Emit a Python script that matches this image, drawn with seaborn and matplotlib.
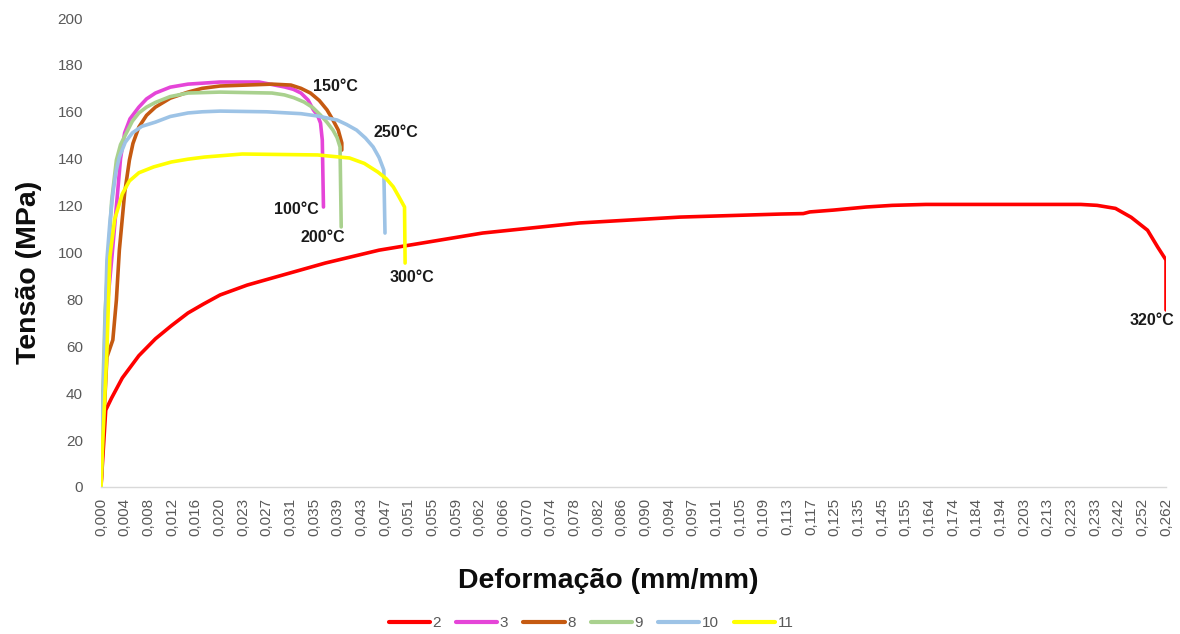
import numpy as np
import pandas as pd
import matplotlib
matplotlib.use("Agg")
import matplotlib.pyplot as plt
import seaborn as sns

# Category labels shown along the strain axis (mm/mm)
tick_labels = ["0,000", "0,004", "0,008", "0,012", "0,016", "0,020", "0,023", "0,027",
               "0,031", "0,035", "0,039", "0,043", "0,047", "0,051", "0,055", "0,059",
               "0,062", "0,066", "0,070", "0,074", "0,078", "0,082", "0,086", "0,090",
               "0,094", "0,097", "0,101", "0,105", "0,109", "0,113", "0,117", "0,125",
               "0,135", "0,145", "0,155", "0,164", "0,174", "0,184", "0,194", "0,203",
               "0,213", "0,223", "0,233", "0,242", "0,252", "0,262"]

# Stress-strain curves per specimen (strain mm/mm, stress MPa)
strain_2 = [0.0000, 0.0008, 0.0018, 0.0036, 0.0064, 0.0092, 0.0119, 0.0147, 0.0173,
            0.0201, 0.0237, 0.0279, 0.0369, 0.0460, 0.0625, 0.0789, 0.0954, 0.1119,
            0.1157, 0.1168, 0.1247, 0.1383, 0.1493, 0.1627, 0.2000, 0.2270, 0.2338,
            0.2408, 0.2473, 0.2542, 0.2585, 0.2620, 0.2620]
stress_2 = [0.0, 32.8, 38.0, 46.5, 56.0, 63.2, 68.8, 74.2, 78.0,
            81.9, 86.1, 89.1, 95.5, 101.0, 108.3, 112.6, 115.1, 116.4,
            116.6, 117.3, 118.1, 119.4, 120.1, 120.5, 120.5, 120.5, 120.1,
            118.8, 115.0, 109.5, 102.3, 96.8, 75.5]

strain_3 = [0.0000, 0.0003, 0.0008, 0.0018, 0.0028, 0.0033, 0.0040, 0.0049, 0.0064,
            0.0077, 0.0092, 0.0117, 0.0147, 0.0201, 0.0257, 0.0300, 0.0315, 0.0328,
            0.0340, 0.0349, 0.0356, 0.0361, 0.0364, 0.0366]
stress_3 = [0.0, 30.0, 70.0, 96.8, 125.4, 140.0, 151.0, 157.0, 162.0,
            165.5, 168.0, 170.5, 171.8, 172.7, 172.7, 170.6, 169.6, 168.0,
            165.0, 160.8, 158.5, 155.2, 148.0, 119.4]

strain_8 = [0.0000, 0.0005, 0.0010, 0.0020, 0.0026, 0.0031, 0.0040, 0.0048, 0.0054,
            0.0064, 0.0077, 0.0092, 0.0117, 0.0147, 0.0171, 0.0201, 0.0279, 0.0311,
            0.0328, 0.0344, 0.0359, 0.0372, 0.0382, 0.0391, 0.0397, 0.0397]
stress_8 = [0.0, 30.0, 55.4, 62.7, 79.7, 101.0, 125.4, 139.4, 146.5,
            153.5, 158.5, 162.0, 165.8, 168.4, 170.0, 171.0, 171.8, 171.4,
            170.0, 168.0, 164.8, 160.8, 156.5, 152.2, 146.7, 143.7]

strain_9 = [0.0000, 0.0003, 0.0007, 0.0012, 0.0018, 0.0026, 0.0033, 0.0043, 0.0053,
            0.0064, 0.0077, 0.0092, 0.0117, 0.0147, 0.0201, 0.0279, 0.0300, 0.0316,
            0.0333, 0.0348, 0.0361, 0.0372, 0.0382, 0.0389, 0.0394, 0.0396]
stress_9 = [0.0, 40.0, 75.0, 96.8, 122.0, 139.4, 146.0, 151.0, 156.0,
            159.5, 162.0, 164.0, 166.5, 168.0, 168.4, 168.0, 167.2, 166.0,
            164.2, 161.8, 158.6, 155.5, 152.2, 149.0, 145.0, 110.9]

strain_10 = [0.0000, 0.0003, 0.0006, 0.0010, 0.0015, 0.0020, 0.0025, 0.0031, 0.0041,
             0.0053, 0.0069, 0.0092, 0.0117, 0.0147, 0.0171, 0.0201, 0.0270, 0.0328,
             0.0356, 0.0389, 0.0405, 0.0422, 0.0437, 0.0450, 0.0460, 0.0468, 0.0470]
stress_10 = [0.0, 30.0, 60.0, 96.8, 113.0, 125.0, 134.0, 140.7, 147.0,
             151.0, 153.8, 155.6, 158.0, 159.5, 160.0, 160.3, 160.0, 159.2,
             158.2, 156.5, 154.6, 152.2, 148.8, 145.0, 140.5, 135.2, 108.3]

strain_11 = [0.0000, 0.0003, 0.0010, 0.0015, 0.0023, 0.0036, 0.0048, 0.0064, 0.0089,
             0.0119, 0.0147, 0.0175, 0.0229, 0.0356, 0.0410, 0.0435, 0.0458, 0.0472,
             0.0484, 0.0493, 0.0503, 0.0504]
stress_11 = [0.0, 20.0, 58.0, 98.0, 114.0, 125.0, 130.5, 134.0, 136.5,
             138.6, 139.8, 140.7, 142.0, 141.6, 140.3, 138.0, 134.3, 131.5,
             128.0, 124.0, 119.4, 95.5]

series_names = ["2", "3", "8", "9", "10", "11"]
series_colors = ["#FF0000", "#E545D8", "#C55A11", "#A9D18E", "#9DC3E6", "#FFFF00"]

# Temperature annotations: (text, strain, stress)
temp_labels = [("150°C", 0.0386, 171.0), ("250°C", 0.0488, 151.0),
               ("100°C", 0.0321, 118.5), ("200°C", 0.0365, 106.6),
               ("300°C", 0.0516, 89.5), ("320°C", 0.2561, 71.2)]

curves = {"2": (strain_2, stress_2), "3": (strain_3, stress_3), "8": (strain_8, stress_8),
          "9": (strain_9, stress_9), "10": (strain_10, stress_10), "11": (strain_11, stress_11)}
frames = []
for name in series_names:
    s, t = curves[name]
    frames.append(pd.DataFrame({"strain": s, "stress": t, "serie": name}))
df = pd.concat(frames, ignore_index=True)

sns.set_theme(style="white")
plt.rcParams["font.family"] = ["Liberation Sans", "DejaVu Sans"]

fig = plt.figure(figsize=(11.8, 6.34), dpi=100)
ax = fig.add_axes([101 / 1180, 1 - 487 / 634, 1065 / 1180, 469 / 634])

# Category-style axis: each labelled strain sits at an evenly spaced slot
tick_vals = np.array([float(t.replace(",", ".")) for t in tick_labels])
slots = np.arange(len(tick_vals), dtype=float)


def fwd(x):
    return np.interp(x, tick_vals, slots)


def inv(i):
    return np.interp(i, slots, tick_vals)


ax.set_xscale("function", functions=(fwd, inv))

sns.lineplot(data=df, x="strain", y="stress", hue="serie", hue_order=series_names,
             palette=series_colors, sort=False, estimator=None, units="serie",
             linewidth=2.6, ax=ax, legend=False)

ax.set_xlim(tick_vals[0], tick_vals[-1])
ax.set_ylim(0, 200)
ax.set_yticks(np.arange(0, 201, 20))
ax.set_xticks(tick_vals)
ax.set_xticklabels(tick_labels, rotation=90)
ax.tick_params(axis="both", length=0, labelsize=11, labelcolor="#595959")
ax.tick_params(axis="y", pad=13)
ax.tick_params(axis="x", pad=8)

for sp in ["top", "right", "left"]:
    ax.spines[sp].set_visible(False)
ax.spines["bottom"].set_color("#D9D9D9")
ax.spines["bottom"].set_linewidth(1.0)
ax.grid(False)

ax.set_xlabel("Deformação (mm/mm)", fontsize=20.5, fontweight="bold", color="#0D0D0D")
ax.set_ylabel("Tensão (MPa)", fontsize=20.5, fontweight="bold", color="#0D0D0D")
ax.xaxis.set_label_coords(0.476, -0.172)
ax.yaxis.set_label_coords(-0.0554, 0.458)

for txt, sx, sy in temp_labels:
    ax.text(sx, sy, txt, ha="center", va="center", fontsize=11.5, fontweight="bold",
            color="#1A1A1A")

handles = [plt.Line2D([0], [0], color=c, lw=3.0) for c in series_colors]
fig.legend(handles, series_names, loc="center", bbox_to_anchor=(591 / 1180, 1 - 623 / 634),
           ncol=6, frameon=False, fontsize=11, handlelength=2.7, handletextpad=0.15,
           columnspacing=1.0, labelcolor="#595959")

fig.savefig("out.png", dpi=100)
